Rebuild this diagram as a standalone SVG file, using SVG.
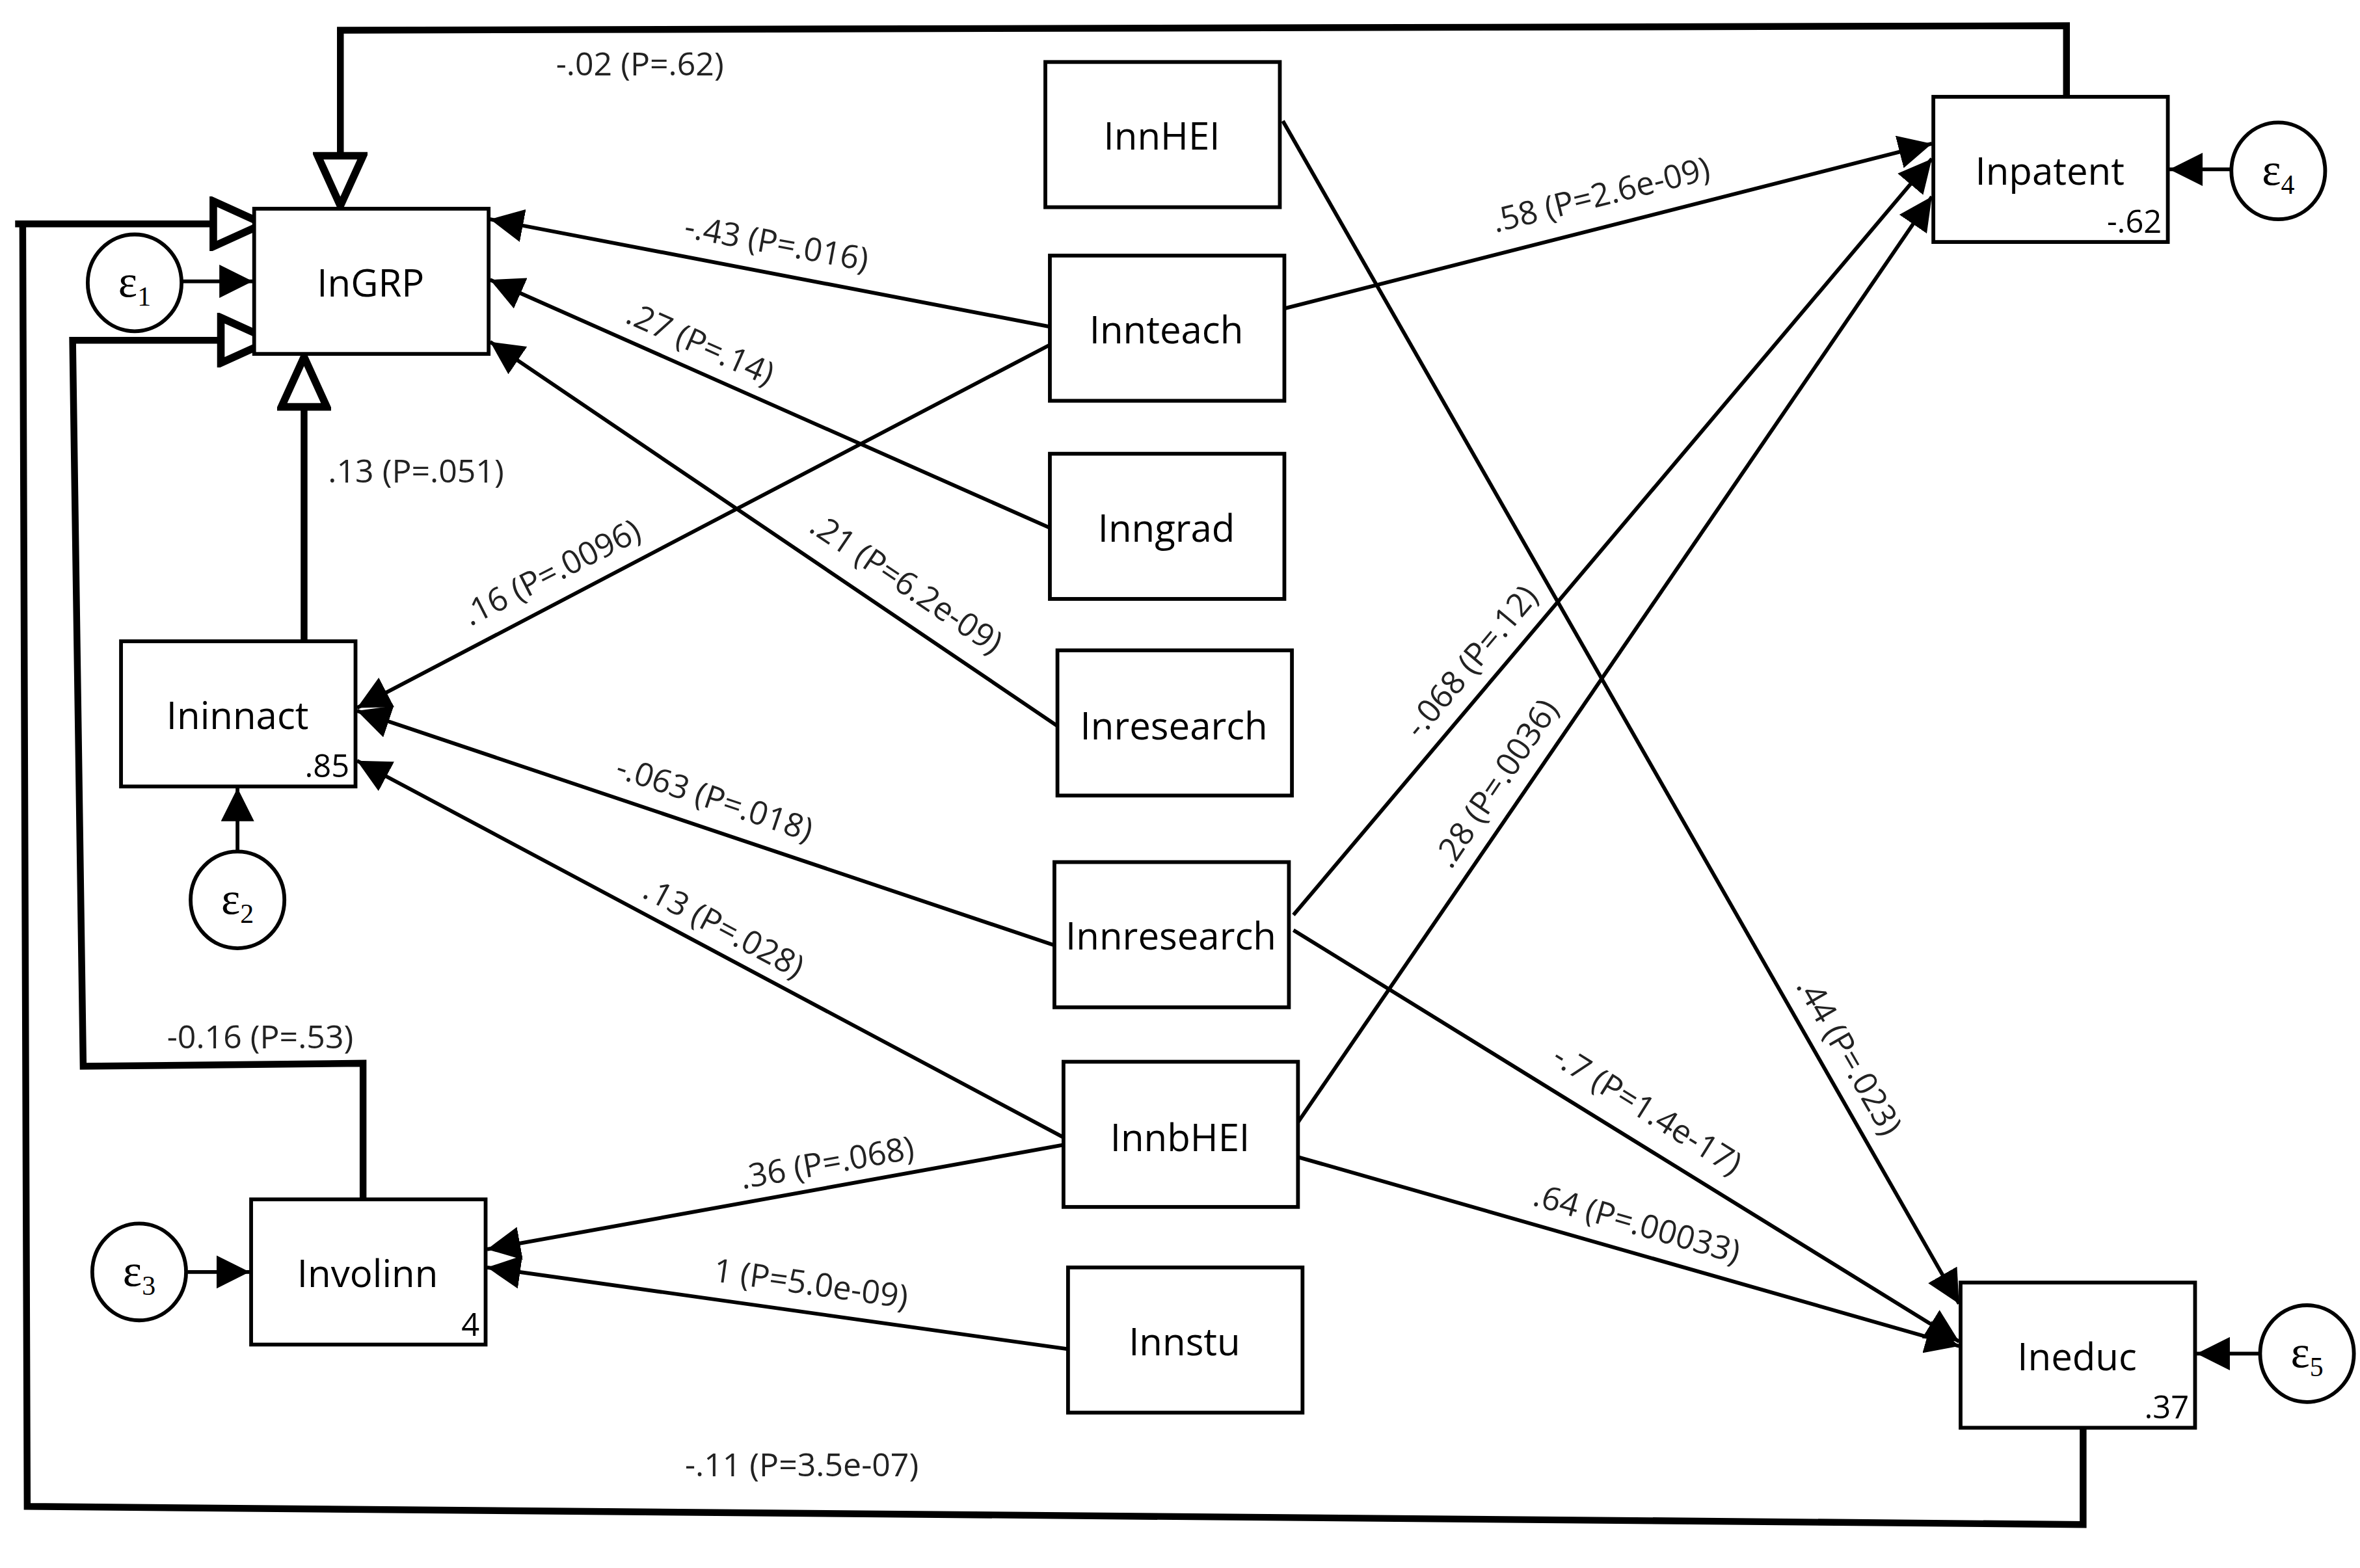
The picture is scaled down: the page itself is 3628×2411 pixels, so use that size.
<svg xmlns="http://www.w3.org/2000/svg" width="3628" height="2411" viewBox="0 0 3628 2411">
<style>
.n rect{fill:#fff;stroke:#000;stroke-width:2.5}
.n text{font-family:"Open Sans","Liberation Sans",sans-serif;font-size:25px;text-anchor:middle}
.n .r{font-size:21px;text-anchor:end}
.e ellipse{fill:#fff;stroke:#000;stroke-width:2.5}
.e text{font-family:"Liberation Serif",serif;font-size:30px;text-anchor:middle}
.e tspan{font-size:18px}
.c line,.c path{fill:none;stroke:#000;stroke-width:2.5}
.c .t{stroke-width:4.5}
.l text{font-family:"Open Sans","Liberation Sans",sans-serif;font-size:21.5px;text-anchor:middle;fill:#222}
</style>
<defs>
<marker id="a2" viewBox="0 0 10 10" refX="10" refY="5" markerWidth="22" markerHeight="22" markerUnits="userSpaceOnUse" orient="auto"><path d="M0,0 L10,5 L0,10 Z" fill="#000"/></marker>
<marker id="h" viewBox="0 0 40 36" refX="37" refY="18" markerWidth="40" markerHeight="36" markerUnits="userSpaceOnUse" orient="auto"><path d="M3,3 L36,18 L3,33 Z" fill="#fff" stroke="#000" stroke-width="5"/></marker>
</defs>
<rect width="3628" height="2411" fill="#fff"/>
<g transform="scale(2.3256)">
<g class="c">
<line x1="120" y1="186" x2="167" y2="186" marker-end="url(#a2)"/>
<line x1="157" y1="563" x2="157" y2="521" marker-end="url(#a2)"/>
<line x1="124" y1="841" x2="165" y2="841" marker-end="url(#a2)"/>
<line x1="1475" y1="112" x2="1434" y2="112" marker-end="url(#a2)"/>
<line x1="1494" y1="895" x2="1452" y2="895" marker-end="url(#a2)"/>
<line x1="694" y1="216" x2="324" y2="145" marker-end="url(#a2)"/>
<line x1="694" y1="349" x2="324" y2="185" marker-end="url(#a2)"/>
<line x1="699" y1="480" x2="324" y2="226" marker-end="url(#a2)"/>
<line x1="694" y1="228" x2="236" y2="468" marker-end="url(#a2)"/>
<line x1="697" y1="625" x2="236" y2="470" marker-end="url(#a2)"/>
<line x1="703" y1="752" x2="236" y2="503" marker-end="url(#a2)"/>
<line x1="703" y1="757" x2="322" y2="826" marker-end="url(#a2)"/>
<line x1="706" y1="892" x2="322" y2="838" marker-end="url(#a2)"/>
<line x1="849" y1="204" x2="1277" y2="95" marker-end="url(#a2)"/>
<line x1="855" y1="605" x2="1277" y2="105" marker-end="url(#a2)"/>
<line x1="858" y1="742" x2="1277" y2="130" marker-end="url(#a2)"/>
<line x1="848" y1="80" x2="1295" y2="862" marker-end="url(#a2)"/>
<line x1="855" y1="615" x2="1295" y2="887" marker-end="url(#a2)"/>
<line x1="858" y1="765" x2="1295" y2="890" marker-end="url(#a2)"/>
<line class="t" x1="201" y1="424" x2="201" y2="235" marker-end="url(#h)"/>
<path class="t" d="M1366,64 L1366,17 L225,20 L225,137" marker-end="url(#h)"/>
<path class="t" d="M1377,944 L1377,1008 L18,996 L15,148 L10,148 L175,148" marker-end="url(#h)"/>
<path class="t" d="M240,793 L240,703 L55,705 L48,225 L180,225" marker-end="url(#h)"/>
</g>
<g class="l">
<text transform="translate(512,168) rotate(10.5)">-.43 (P=.016)</text>
<text transform="translate(460,234) rotate(24)">.27 (P=.14)</text>
<text transform="translate(595,392) rotate(34)">.21 (P=6.2e-09)</text>
<text transform="translate(368,385) rotate(-27)">.16 (P=.0096)</text>
<text transform="translate(470,535) rotate(18.5)">-.063 (P=.018)</text>
<text transform="translate(475,620) rotate(28)">.13 (P=.028)</text>
<text transform="translate(548,776) rotate(-10)">.36 (P=.068)</text>
<text transform="translate(535,856) rotate(8)">1 (P=5.0e-09)</text>
<text transform="translate(1060,136) rotate(-14)">.58 (P=2.6e-09)</text>
<text transform="translate(978,442) rotate(-50)">-.068 (P=.12)</text>
<text transform="translate(995,522) rotate(-56)">.28 (P=.0036)</text>
<text transform="translate(1216,702) rotate(60)">.44 (P=.023)</text>
<text transform="translate(1085,740) rotate(32)">-.7 (P=1.4e-17)</text>
<text transform="translate(1080,816) rotate(16)">.64 (P=.00033)</text>
<text x="275" y="319">.13 (P=.051)</text>
<text x="423" y="50">-.02 (P=.62)</text>
<text x="530" y="976">-.11 (P=3.5e-07)</text>
<text x="172" y="693">-0.16 (P=.53)</text>
</g>
<g id="InGRP" class="n"><rect x="168" y="138" width="155" height="96"/><text x="245" y="196">InGRP</text></g>
<g id="InnHEI" class="n"><rect x="691" y="41" width="155" height="96"/><text x="768" y="99">InnHEI</text></g>
<g id="Innteach" class="n"><rect x="694" y="169" width="155" height="96"/><text x="771" y="227">Innteach</text></g>
<g id="Inngrad" class="n"><rect x="694" y="300" width="155" height="96"/><text x="771" y="358">Inngrad</text></g>
<g id="Inresearch" class="n"><rect x="699" y="430" width="155" height="96"/><text x="776" y="489">Inresearch</text></g>
<g id="Innresearch" class="n"><rect x="697" y="570" width="155" height="96"/><text x="774" y="628">Innresearch</text></g>
<g id="InnbHEI" class="n"><rect x="703" y="702" width="155" height="96"/><text x="780" y="761">InnbHEI</text></g>
<g id="Innstu" class="n"><rect x="706" y="838" width="155" height="96"/><text x="783" y="896">Innstu</text></g>
<g id="Ininnact" class="n"><rect x="80" y="424" width="155" height="96"/><text x="157" y="482">Ininnact</text><text class="r" x="231" y="514">.85</text></g>
<g id="Involinn" class="n"><rect x="166" y="793" width="155" height="96"/><text x="243" y="851">Involinn</text><text class="r" x="317" y="883">4</text></g>
<g id="Inpatent" class="n"><rect x="1278" y="64" width="155" height="96"/><text x="1355" y="122">Inpatent</text><text class="r" x="1429" y="154">-.62</text></g>
<g id="Ineduc" class="n"><rect x="1296" y="848" width="155" height="96"/><text x="1373" y="906">Ineduc</text><text class="r" x="1447" y="938">.37</text></g>
<g id="e1" class="e"><ellipse cx="89" cy="187" rx="31" ry="32"/><text x="89" y="196">ε<tspan dy="6">1</tspan></text></g>
<g id="e2" class="e"><ellipse cx="157" cy="595" rx="31" ry="32"/><text x="157" y="604">ε<tspan dy="6">2</tspan></text></g>
<g id="e3" class="e"><ellipse cx="92" cy="841" rx="31" ry="32"/><text x="92" y="850">ε<tspan dy="6">3</tspan></text></g>
<g id="e4" class="e"><ellipse cx="1506" cy="113" rx="31" ry="32"/><text x="1506" y="122">ε<tspan dy="6">4</tspan></text></g>
<g id="e5" class="e"><ellipse cx="1525" cy="895" rx="31" ry="32"/><text x="1525" y="904">ε<tspan dy="6">5</tspan></text></g>
</g>
</svg>
